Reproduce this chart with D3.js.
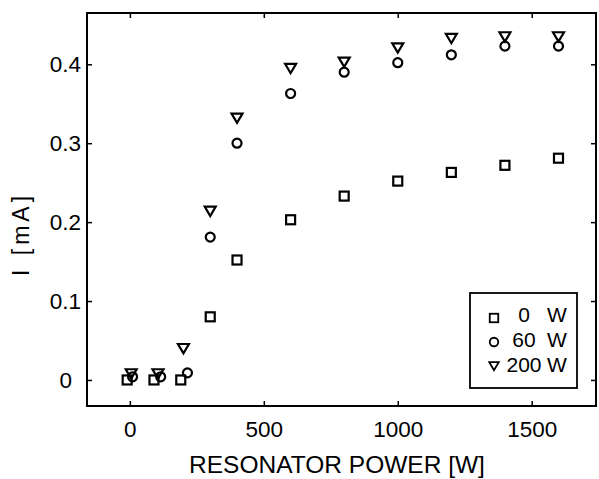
<!DOCTYPE html>
<html>
<head>
<meta charset="utf-8">
<script src="https://cdn.jsdelivr.net/npm/d3@7"></script>
<style>
    body { margin: 0; background: #fff; }
    svg text { fill: #000; }
</style>
</head>
<body>
<div id="chart"></div>
<script>
// resonator power [W] per series (small offsets as drawn in the original)
const powerSquares   = [-10, 90, 190, 300, 400, 600, 800, 1000, 1200, 1400, 1600];
const powerCircles   = [10, 115, 215, 300, 400, 600, 800, 1000, 1200, 1400, 1600];
const powerTriangles = [5, 105, 200, 300, 400, 600, 800, 1000, 1200, 1400, 1600];

// current I [mA]
const current0W   = [0, 0, 0, 0.080, 0.152, 0.203, 0.233, 0.252, 0.263, 0.272, 0.281];
const current60W  = [0.004, 0.004, 0.009, 0.181, 0.300, 0.363, 0.390, 0.402, 0.412, 0.423, 0.423];
const current200W = [0.008, 0.008, 0.040, 0.214, 0.332, 0.395, 0.403, 0.421, 0.433, 0.435, 0.435];

const seriesLabels = ['0', '60', '200'];
const xTicks = [0, 500, 1000, 1500];
const yTicks = [0, 0.1, 0.2, 0.3, 0.4];

const W = 599, H = 479;
const box = { left: 87, top: 13, right: 596, bottom: 406 };

const svg = d3.select('#chart').append('svg')
    .attr('width', W)
    .attr('height', H);

const x = d3.scaleLinear().domain([-160, 1740]).range([box.left, box.right]);
const y = d3.scaleLinear().domain([-0.033, 0.465]).range([box.bottom, box.top]);

const font = '"Liberation Sans", Arial, sans-serif';

// axes with inward ticks on all four sides
const tick = 5;
svg.append('g')
    .attr('transform', `translate(0,${box.bottom})`)
    .call(d3.axisBottom(x).tickValues(xTicks).tickSize(-tick).tickFormat(d3.format('d')))
    .call(g => g.select('.domain').remove())
    .call(g => g.selectAll('line').attr('stroke-width', 1.5))
    .call(g => g.selectAll('text').attr('font-family', font).attr('font-size', 22.5)
        .attr('y', 31).attr('dy', 0));

svg.append('g')
    .attr('transform', `translate(0,${box.top})`)
    .call(d3.axisTop(x).tickValues(xTicks).tickSize(-tick).tickFormat(''))
    .call(g => g.select('.domain').remove())
    .call(g => g.selectAll('line').attr('stroke-width', 1.5));

svg.append('g')
    .attr('transform', `translate(${box.left},0)`)
    .call(d3.axisLeft(y).tickValues(yTicks).tickSize(-tick).tickPadding(6).tickFormat(d => d === 0 ? '0' : d3.format('.1f')(d)))
    .call(g => g.select('.domain').remove())
    .call(g => g.selectAll('line').attr('stroke-width', 1.5))
    .call(g => g.selectAll('text').attr('font-family', font).attr('font-size', 22.5)
        .attr('dx', d => d === 0 ? -9 : 0));

svg.append('g')
    .attr('transform', `translate(${box.right},0)`)
    .call(d3.axisRight(y).tickValues(yTicks).tickSize(-tick).tickFormat(''))
    .call(g => g.select('.domain').remove())
    .call(g => g.selectAll('line').attr('stroke-width', 1.5));

// frame
svg.append('rect')
    .attr('x', box.left)
    .attr('y', box.top)
    .attr('width', box.right - box.left)
    .attr('height', box.bottom - box.top)
    .attr('fill', 'none')
    .attr('stroke', '#000')
    .attr('stroke-width', 2);

// marker shapes
const drawSquare = (sel, s) => sel.append('rect')
    .attr('x', -s / 2).attr('y', -s / 2).attr('width', s).attr('height', s);
const drawCircle = (sel, s) => sel.append('circle').attr('r', s / 2);
const drawTriangle = (sel, s) => sel.append('path')
    .attr('d', `M${-s / 2},${-s * 0.4}L${s / 2},${-s * 0.4}L0,${s * 0.45}Z`);

const series = [
    { xs: powerSquares,   ys: current0W,   draw: drawSquare,   size: 9 },
    { xs: powerCircles,   ys: current60W,  draw: drawCircle,   size: 9 },
    { xs: powerTriangles, ys: current200W, draw: drawTriangle, size: 11 }
];

series.forEach(s => {
    svg.append('g').selectAll('g')
        .data(s.xs.map((v, i) => [v, s.ys[i]]))
        .join('g')
        .attr('transform', d => `translate(${x(d[0])},${y(d[1])})`)
        .each(function () { s.draw(d3.select(this), s.size); })
        .selectAll('*')
        .attr('fill', 'none')
        .attr('stroke', '#000')
        .attr('stroke-width', 2.2);
});

// legend
const legend = svg.append('g');
legend.append('rect')
    .attr('x', 470).attr('y', 293)
    .attr('width', 107).attr('height', 95)
    .attr('fill', '#fff')
    .attr('stroke', '#000')
    .attr('stroke-width', 1.8);

const legendText = [322, 347, 372];
const legendMark = [318, 342, 366];
series.forEach((s, i) => {
    legend.append('g').attr('transform', `translate(494,${legendMark[i]})`)
        .call(g => s.draw(g, i === 2 ? 9.5 : 8.5))
        .selectAll('*')
        .attr('fill', 'none')
        .attr('stroke', '#000')
        .attr('stroke-width', 1.8);
    legend.append('text')
        .attr('x', 524).attr('y', legendText[i])
        .attr('text-anchor', 'middle')
        .attr('font-family', font)
        .attr('font-size', 21)
        .text(seriesLabels[i]);
    legend.append('text')
        .attr('x', 557).attr('y', legendText[i])
        .attr('text-anchor', 'middle')
        .attr('font-family', font)
        .attr('font-size', 21)
        .text('W');
});

// axis titles
svg.append('text')
    .attr('x', 337).attr('y', 473)
    .attr('text-anchor', 'middle')
    .attr('font-family', font)
    .attr('font-size', 24.5)
    .text('RESONATOR POWER [W]');

svg.append('text')
    .attr('transform', 'translate(29,234) rotate(-90)')
    .attr('text-anchor', 'middle')
    .attr('font-family', font)
    .attr('font-size', 23)
    .attr('letter-spacing', 4)
    .text('I [mA]');
</script>
</body>
</html>
